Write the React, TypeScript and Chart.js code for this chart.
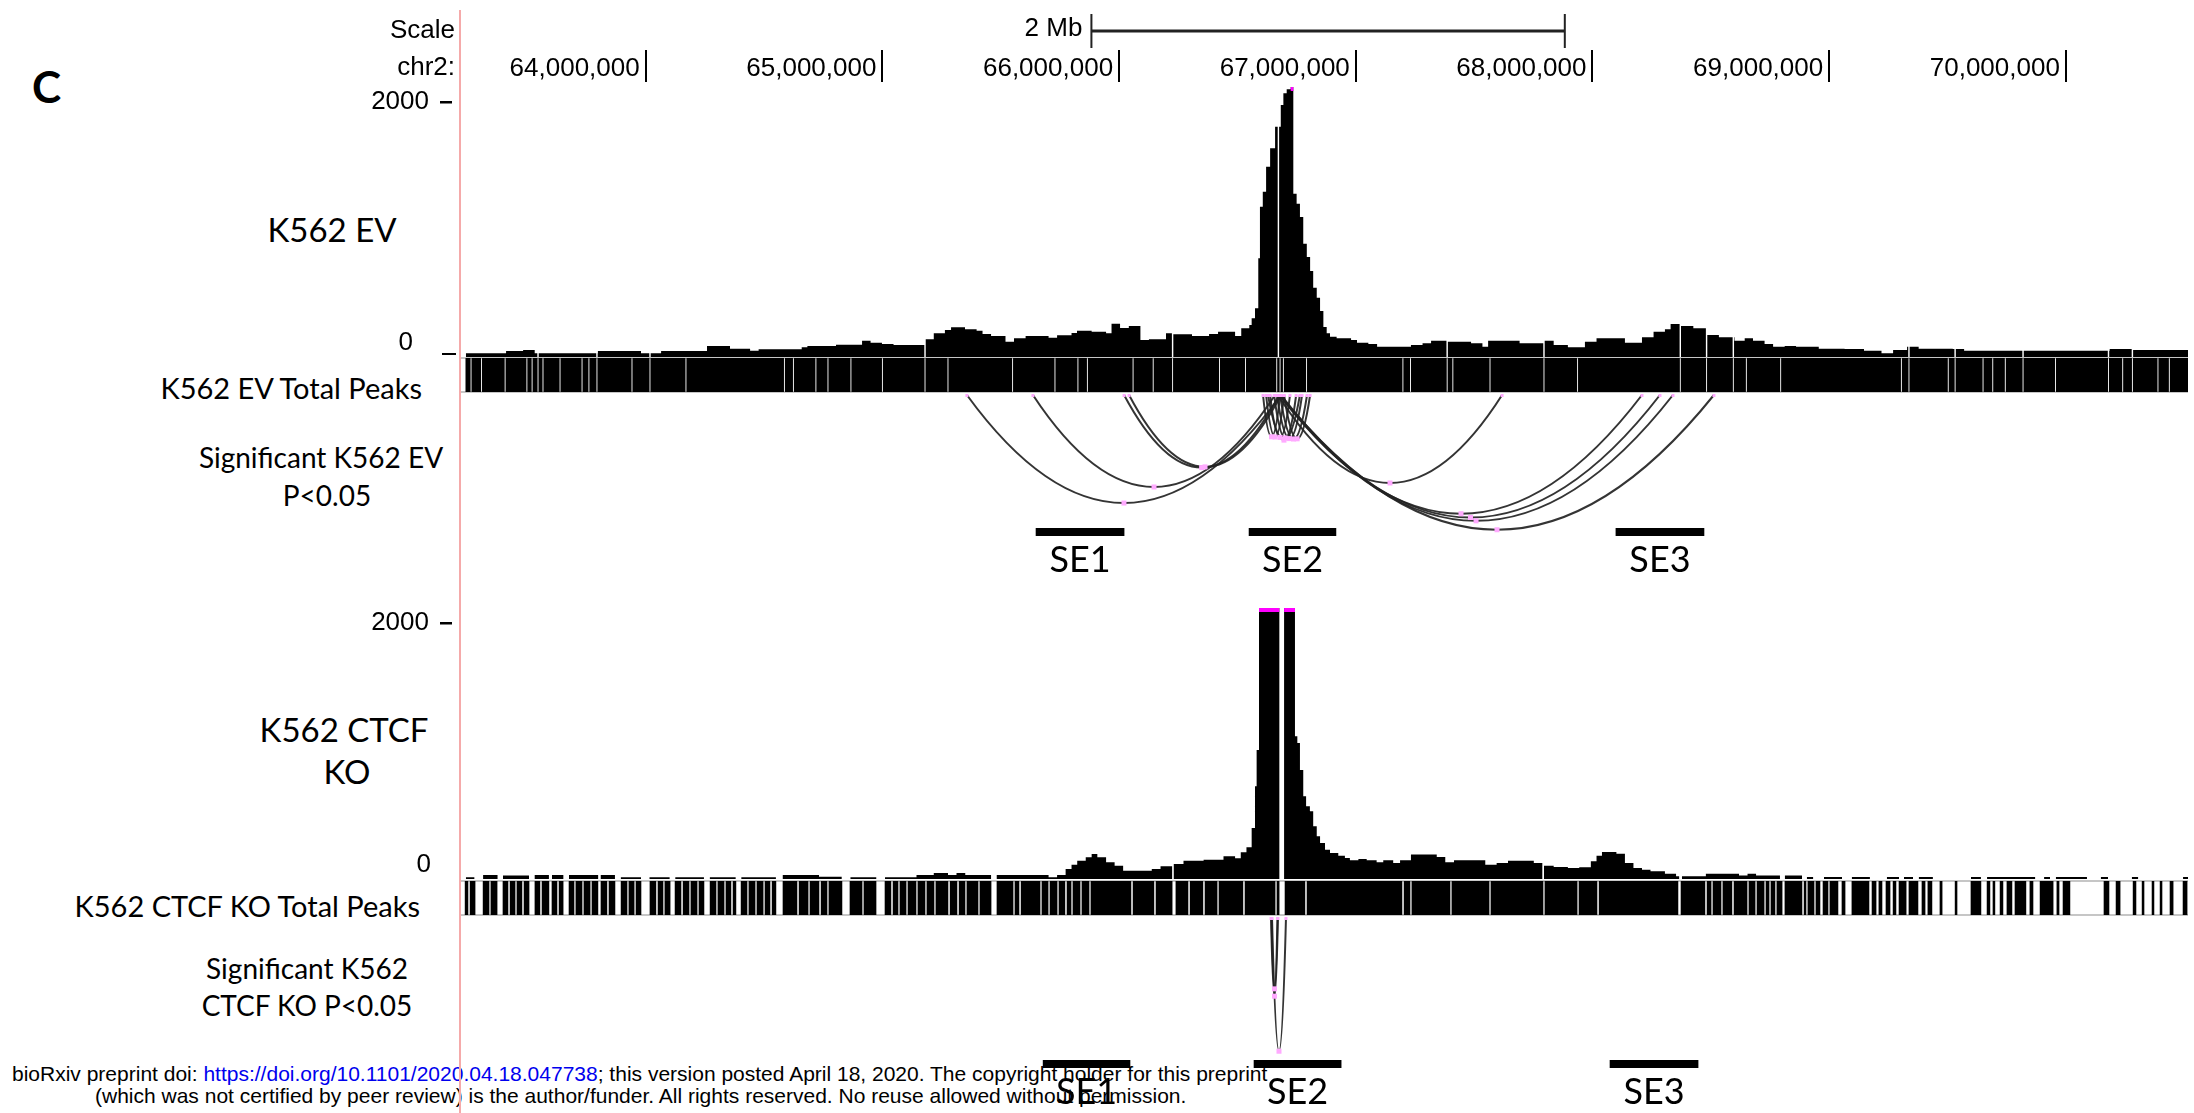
import React, { useEffect, useRef } from 'react';
import { Chart, registerables } from 'chart.js';

Chart.register(...registerables);

const W = 2194;
const H = 1113;
const PLOT_LEFT = 461;
const PLOT_RIGHT = 2188;

// ---------- genomic window (Mb on chr2) ----------
const viewStart = 63.2196;
const viewEnd = 70.5159;
const rulerTicks = [64, 65, 66, 67, 68, 69, 70];
const scaleBarStart = 65.883;
const scaleBarLength = 2;
const signalMax = 2000;

// ---------- K562 EV signal (step starts, Mb) ----------
const evSignalX = [63.240, 63.410, 63.482, 63.531, 63.798, 63.980, 64.065, 64.259, 64.356, 64.441, 64.477, 64.659, 64.683, 64.804, 64.914, 64.950, 64.998, 65.047, 65.180, 65.217, 65.264, 65.290, 65.349, 65.398, 65.423, 65.459, 65.520, 65.556, 65.605, 65.702, 65.738, 65.799, 65.822, 65.884, 65.945, 65.968, 66.004, 66.041, 66.090, 66.126, 66.198, 66.224, 66.308, 66.380, 66.418, 66.490, 66.516, 66.550, 66.560, 66.574, 66.588, 66.595, 66.607, 66.621, 66.638, 66.659, 66.683, 66.694, 66.708, 66.725, 66.736, 66.750, 66.764, 66.778, 66.793, 66.807, 66.820, 66.835, 66.849, 66.863, 66.877, 66.891, 66.919, 66.980, 67.005, 67.053, 67.090, 67.233, 67.282, 67.318, 67.385, 67.487, 67.535, 67.559, 67.692, 67.795, 67.836, 67.896, 67.968, 68.017, 68.137, 68.209, 68.258, 68.306, 68.330, 68.370, 68.426, 68.484, 68.534, 68.600, 68.643, 68.678, 68.727, 68.763, 68.812, 68.860, 68.956, 69.065, 69.147, 69.221, 69.270, 69.329, 69.378, 69.522, 69.570, 70.185, 70.279, 70.516];
const evSignalY = [27, 44, 52, 27, 44, 27, 44, 81, 61, 47, 57, 72, 81, 91, 121, 106, 96, 89, 131, 176, 200, 220, 205, 195, 170, 156, 113, 139, 156, 143, 161, 178, 195, 187, 176, 247, 215, 230, 126, 131, 176, 168, 156, 170, 187, 156, 213, 237, 287, 361, 731, 1113, 1224, 1410, 1546, 1706, 1867, 1953, 1983, 2060, 1210, 1136, 1037, 839, 741, 637, 513, 439, 341, 222, 176, 150, 139, 126, 106, 96, 76, 89, 101, 121, 113, 101, 76, 121, 101, 121, 89, 72, 113, 139, 106, 146, 187, 205, 244, 230, 213, 163, 146, 121, 139, 121, 96, 76, 81, 76, 61, 59, 47, 27, 52, 76, 61, 59, 47, 59, 52, 52];
const evSignalGaps = [63.545, 63.794, 64.018, 65.180, 66.226, 66.673, 67.386, 67.795, 68.371, 68.482, 68.595, 69.337, 69.532, 69.819, 70.180, 70.281];

// ---------- K562 CTCF KO signal ----------
const koSignalX = [63.240, 63.276, 63.313, 63.374, 63.397, 63.507, 63.531, 63.591, 63.604, 63.652, 63.676, 63.799, 63.810, 63.870, 63.895, 63.980, 64.016, 64.101, 64.125, 64.246, 64.271, 64.380, 64.404, 64.550, 64.579, 64.732, 64.828, 64.865, 64.974, 65.011, 65.144, 65.217, 65.277, 65.313, 65.350, 65.459, 65.483, 65.702, 65.738, 65.774, 65.799, 65.823, 65.859, 65.884, 65.908, 65.945, 65.981, 66.017, 66.138, 66.175, 66.224, 66.231, 66.272, 66.357, 66.441, 66.490, 66.514, 66.538, 66.560, 66.574, 66.581, 66.591, 66.677, 66.697, 66.743, 66.753, 66.764, 66.778, 66.790, 66.806, 66.820, 66.835, 66.849, 66.870, 66.891, 66.926, 66.954, 66.975, 67.011, 67.046, 67.088, 67.116, 67.158, 67.187, 67.233, 67.342, 67.378, 67.415, 67.547, 67.595, 67.643, 67.752, 67.788, 67.795, 67.836, 67.896, 67.944, 67.993, 68.017, 68.040, 68.101, 68.137, 68.173, 68.209, 68.245, 68.306, 68.353, 68.366, 68.378, 68.479, 68.619, 68.655, 68.691, 68.792, 68.813, 68.885, 68.906, 68.932, 68.978, 69.054, 69.096, 69.172, 69.244, 69.295, 69.316, 69.354, 69.379, 69.438, 69.599, 69.641, 69.667, 69.870, 69.908, 69.933, 69.958, 70.089, 70.148, 70.178, 70.279, 70.305, 70.495, 70.516];
const koSignalY = [13, 0, 30, 0, 25, 0, 30, 0, 30, 0, 30, 0, 30, 0, 13, 0, 13, 0, 13, 0, 13, 0, 13, 0, 30, 17, 0, 13, 0, 13, 30, 44, 30, 44, 30, 0, 30, 13, 30, 74, 106, 135, 160, 185, 160, 123, 98, 61, 74, 94, 0, 111, 135, 142, 168, 153, 197, 234, 376, 684, 952, 2300, 0, 2300, 1053, 1004, 804, 610, 536, 500, 389, 315, 266, 216, 192, 172, 155, 138, 148, 138, 123, 138, 118, 138, 180, 162, 123, 138, 106, 118, 135, 118, 0, 98, 89, 81, 86, 131, 172, 199, 187, 118, 81, 69, 57, 39, 20, 0, 20, 39, 25, 39, 25, 0, 25, 0, 15, 0, 15, 0, 15, 0, 15, 0, 15, 0, 15, 0, 15, 0, 15, 0, 15, 0, 15, 0, 15, 0, 15, 0, 15, 0];

// ---------- Total peaks ----------
const evPeakBounds = [63.240, 63.262, 63.306, 63.406, 63.498, 63.520, 63.545, 63.566, 63.638, 63.731, 63.760, 63.794, 63.942, 64.018, 64.170, 64.586, 64.624, 64.719, 64.770, 64.867, 65.000, 65.180, 65.277, 65.550, 65.729, 65.826, 65.866, 66.059, 66.144, 66.226, 66.424, 66.534, 66.666, 66.680, 66.694, 66.792, 67.199, 67.231, 67.386, 67.410, 67.567, 67.795, 67.937, 68.371, 68.482, 68.595, 68.650, 68.795, 69.305, 69.337, 69.503, 69.532, 69.650, 69.691, 69.744, 69.819, 69.956, 70.180, 70.240, 70.281, 70.389, 70.437, 70.516];
const koPeakStart = [63.237, 63.258, 63.313, 63.346, 63.397, 63.427, 63.456, 63.486, 63.532, 63.562, 63.604, 63.634, 63.676, 63.705, 63.739, 63.773, 63.811, 63.845, 63.896, 63.929, 63.959, 64.018, 64.052, 64.081, 64.124, 64.158, 64.191, 64.225, 64.272, 64.305, 64.339, 64.369, 64.403, 64.436, 64.470, 64.504, 64.534, 64.580, 64.648, 64.694, 64.741, 64.774, 64.863, 64.922, 65.011, 65.045, 65.074, 65.108, 65.150, 65.188, 65.226, 65.286, 65.324, 65.357, 65.412, 65.484, 65.560, 65.586, 65.674, 65.708, 65.746, 65.780, 65.805, 65.843, 65.881, 66.059, 66.156, 66.240, 66.300, 66.363, 66.422, 66.532, 66.667, 66.701, 66.794, 67.204, 67.237, 67.406, 67.571, 67.799, 67.943, 68.028, 68.374, 68.484, 68.509, 68.551, 68.598, 68.661, 68.695, 68.733, 68.754, 68.779, 68.813, 68.894, 68.910, 68.944, 68.974, 69.003, 69.054, 69.096, 69.181, 69.210, 69.240, 69.270, 69.295, 69.337, 69.392, 69.417, 69.468, 69.532, 69.599, 69.667, 69.692, 69.722, 69.751, 69.785, 69.848, 69.891, 69.962, 69.988, 70.161, 70.212, 70.284, 70.322, 70.364, 70.398, 70.440, 70.495];
const koPeakEnd = [63.249, 63.279, 63.338, 63.372, 63.418, 63.448, 63.477, 63.507, 63.553, 63.591, 63.625, 63.651, 63.697, 63.731, 63.765, 63.798, 63.836, 63.870, 63.921, 63.951, 63.980, 64.043, 64.073, 64.103, 64.149, 64.183, 64.217, 64.246, 64.297, 64.331, 64.360, 64.381, 64.428, 64.462, 64.496, 64.525, 64.550, 64.639, 64.686, 64.732, 64.766, 64.829, 64.914, 64.973, 65.036, 65.066, 65.100, 65.142, 65.180, 65.218, 65.277, 65.315, 65.349, 65.404, 65.459, 65.552, 65.577, 65.666, 65.700, 65.738, 65.771, 65.797, 65.835, 65.873, 66.050, 66.147, 66.224, 66.291, 66.354, 66.414, 66.523, 66.659, 66.676, 66.785, 67.195, 67.229, 67.398, 67.563, 67.791, 67.935, 68.019, 68.361, 68.475, 68.501, 68.543, 68.589, 68.653, 68.687, 68.725, 68.746, 68.771, 68.801, 68.885, 68.902, 68.936, 68.961, 68.995, 69.037, 69.067, 69.168, 69.198, 69.223, 69.257, 69.282, 69.325, 69.375, 69.405, 69.434, 69.477, 69.540, 69.641, 69.679, 69.700, 69.734, 69.772, 69.831, 69.861, 69.946, 69.971, 70.017, 70.182, 70.229, 70.296, 70.330, 70.372, 70.406, 70.453, 70.512];

// ---------- significant interactions (anchor pairs, Mb) ----------
const evArcStart = [65.357, 65.636, 66.021, 66.042, 66.671, 66.680, 66.684, 66.676, 66.680, 66.608, 66.621, 66.638, 66.655, 66.667, 66.680, 66.697, 66.629];
const evArcEnd = [66.684, 66.659, 66.676, 66.684, 67.618, 68.209, 68.285, 68.340, 68.513, 66.680, 66.697, 66.722, 66.748, 66.773, 66.794, 66.807, 66.764];
const koArcStart = [66.644, 66.642, 66.646];
const koArcEnd = [66.669, 66.671, 66.705];

// ---------- super-enhancers ----------
const seNames = ['SE1', 'SE2', 'SE3'];
const seTopStart = [65.649, 66.549, 68.099];
const seTopEnd = [66.021, 66.916, 68.471];
const seBotStart = [65.679, 66.570, 68.074];
const seBotEnd = [66.046, 66.938, 68.446];

const UCSC_FONT = '"Liberation Sans", Arial, sans-serif';
const LABEL_FONT = 'Lato, "Open Sans", sans-serif';

function buildStep(xs: number[], ys: number[], gaps: number[], gapWidth: number) {
  let pts = xs.map((x, i) => ({ x, y: ys[i] }));
  for (const g of gaps) {
    const a = g - gapWidth / 2;
    const b = g + gapWidth / 2;
    let v = 0;
    for (const p of pts) if (p.x <= b) v = p.y;
    pts = pts.filter((p) => p.x <= a || p.x > b);
    pts.push({ x: a, y: 0 }, { x: b, y: v });
    pts.sort((p, q) => p.x - q.x);
  }
  return pts;
}

function base(top: number, bottom: number) {
  return {
    responsive: false,
    maintainAspectRatio: false,
    animation: false as const,
    devicePixelRatio: 1,
    events: [] as any[],
    layout: { padding: { left: PLOT_LEFT, right: W - PLOT_RIGHT, top, bottom: H - bottom } },
  };
}
const quiet = { legend: { display: false }, tooltip: { enabled: false } };
const xHidden = () => ({ type: 'linear' as const, min: viewStart, max: viewEnd, display: false });

function makeRuler(canvas: HTMLCanvasElement) {
  const decor = {
    id: 'rulerDecor',
    afterDraw(chart: any) {
      const { ctx, chartArea } = chart;
      const x = chart.scales.x;
      ctx.save();
      ctx.fillStyle = '#f5aaaa';
      ctx.fillRect(chartArea.left - 2, 10, 2, H - 10);
      ctx.font = `26px ${UCSC_FONT}`;
      ctx.fillStyle = '#000';
      ctx.textAlign = 'right';
      ctx.textBaseline = 'middle';
      ctx.fillText('Scale', chartArea.left - 6, 31);
      ctx.fillText('chr2:', chartArea.left - 6, 68);
      const a = x.getPixelForValue(scaleBarStart);
      const b = x.getPixelForValue(scaleBarStart + scaleBarLength);
      ctx.fillText(`${scaleBarLength} Mb`, a - 9, 29);
      ctx.fillStyle = '#222';
      ctx.fillRect(a, 29.5, b - a, 3);
      ctx.fillRect(a - 1, 14, 2, 34);
      ctx.fillRect(b - 1, 14, 2, 34);
      ctx.restore();
    },
  };
  return new Chart(canvas, {
    type: 'line',
    data: { datasets: [] },
    options: {
      ...base(0, 84),
      plugins: quiet,
      scales: {
        x: {
          type: 'linear',
          min: viewStart,
          max: viewEnd,
          position: 'top',
          afterBuildTicks: (s: any) => {
            s.ticks = rulerTicks.map((v) => ({ value: v }));
          },
          afterFit: (s: any) => {
            s.height = 82;
          },
          grid: { drawOnChartArea: false, drawTicks: true, tickLength: 32, color: '#000', lineWidth: 2 },
          border: { display: false },
          ticks: {
            autoSkip: false,
            maxRotation: 0,
            minRotation: 0,
            align: 'end',
            labelOffset: -6,
            padding: -34,
            color: '#000',
            font: { family: UCSC_FONT, size: 26 },
            callback: (v: any) => Math.round(Number(v) * 1e6).toLocaleString('en-US'),
          },
        },
        y: { display: false },
      },
    } as any,
    plugins: [decor],
  });
}

function makeSignal(canvas: HTMLCanvasElement, pts: any[], top: number, bottom: number, zeroRight: number, underscore: boolean) {
  const decor = {
    id: 'signalDecor',
    afterDatasetsDraw(chart: any) {
      const { ctx, chartArea } = chart;
      const x = chart.scales.x;
      const y = chart.scales.y;
      const d = chart.data.datasets[0].data;
      ctx.save();
      ctx.fillStyle = '#ff00ff';
      for (let i = 0; i < d.length - 1; i++) {
        if (d[i].y > y.max) {
          const a = x.getPixelForValue(d[i].x);
          const b = x.getPixelForValue(d[i + 1].x);
          ctx.fillRect(a, chartArea.top, Math.max(b - a, 1.5), 4);
        }
      }
      ctx.fillStyle = '#000';
      ctx.font = `26px ${UCSC_FONT}`;
      ctx.textAlign = 'right';
      ctx.textBaseline = 'middle';
      const yTop = y.getPixelForValue(signalMax) + 15;
      ctx.fillText(String(signalMax), chartArea.left - 32, yTop);
      ctx.fillRect(chartArea.left - 21, yTop - 1, 12, 2.5);
      const y0 = y.getPixelForValue(0);
      ctx.fillText('0', zeroRight, y0 - 14);
      if (underscore) ctx.fillRect(chartArea.left - 19, y0 - 4, 14, 2);
      ctx.restore();
    },
  };
  return new Chart(canvas, {
    type: 'line',
    data: {
      datasets: [
        {
          data: pts,
          stepped: true,
          fill: 'origin',
          backgroundColor: '#000',
          borderColor: 'rgba(0,0,0,0)',
          borderWidth: 0,
          pointRadius: 0,
        },
      ],
    },
    options: {
      ...base(top, bottom),
      plugins: quiet,
      scales: { x: xHidden(), y: { type: 'linear', min: 0, max: signalMax, display: false } },
    } as any,
    plugins: [decor],
  });
}

function makeBars(canvas: HTMLCanvasElement, starts: number[], ends: number[], top: number, bottom: number, withBox: boolean, extra?: any) {
  return new Chart(canvas, {
    type: 'bar',
    data: {
      labels: ['row'],
      datasets: [
        {
          data: starts.map((s, i) => ({ x: [s, ends[i]], y: 'row' })),
          backgroundColor: '#000',
          borderWidth: 0,
          borderSkipped: false,
          barPercentage: 1,
          categoryPercentage: 1,
        },
      ],
    },
    options: {
      ...base(top, bottom),
      indexAxis: 'y',
      plugins: quiet,
      scales: {
        x: xHidden(),
        y: withBox
          ? {
              type: 'category',
              display: true,
              z: 1,
              offset: true,
              grid: { offset: true, color: '#c6c6c6', lineWidth: 2, drawTicks: false },
              ticks: { display: false },
              border: { display: false },
              afterFit: (s: any) => {
                s.width = 0;
              },
            }
          : { type: 'category', display: false },
      },
    } as any,
    plugins: extra ? [extra] : [],
  });
}

function seLabels(starts: number[], ends: number[], dy: number) {
  return {
    id: 'seLabels',
    afterDatasetsDraw(chart: any) {
      const { ctx, chartArea } = chart;
      const x = chart.scales.x;
      ctx.save();
      ctx.font = `36px ${LABEL_FONT}`;
      ctx.textAlign = 'center';
      ctx.textBaseline = 'middle';
      ctx.fillStyle = '#000';
      seNames.forEach((n, i) => {
        const c = (x.getPixelForValue(starts[i]) + x.getPixelForValue(ends[i])) / 2;
        ctx.fillText(n, c, chartArea.bottom + dy);
      });
      ctx.restore();
    },
  };
}

function makeArcs(canvas: HTMLCanvasElement, starts: number[], ends: number[], top: number, bottom: number, d0: number, k: number) {
  const decor = {
    id: 'arcDecor',
    afterDraw(chart: any) {
      const { ctx, chartArea } = chart;
      const x = chart.scales.x;
      const t = chartArea.top;
      const mids: number[][] = [];
      ctx.save();
      ctx.strokeStyle = 'rgba(35,35,35,0.92)';
      ctx.lineWidth = 2;
      starts.forEach((s, i) => {
        const a = x.getPixelForValue(s);
        const b = x.getPixelForValue(ends[i]);
        const depth = d0 + k * Math.abs(b - a);
        const m = (a + b) / 2;
        ctx.beginPath();
        ctx.moveTo(a, t);
        ctx.quadraticCurveTo(m, t + 2 * depth, b, t);
        ctx.stroke();
        mids.push([m, t + depth]);
      });
      ctx.fillStyle = '#ffaaff';
      starts.forEach((s, i) => {
        [s, ends[i]].forEach((v) => {
          const p = x.getPixelForValue(v);
          ctx.fillRect(p - 1.5, t - 1, 3, 3);
        });
      });
      mids.forEach(([m, yb]) => ctx.fillRect(m - 2.5, yb - 2.5, 5, 5));
      ctx.restore();
    },
  };
  return new Chart(canvas, {
    type: 'line',
    data: { datasets: [] },
    options: {
      ...base(top, bottom),
      plugins: quiet,
      scales: { x: xHidden(), y: { display: false } },
    } as any,
    plugins: [decor],
  });
}

const evPeakStart = evPeakBounds.slice(0, -1).map((b, i) => (i === 0 ? b : b + 0.0033));
const evPeakEnd = evPeakBounds.slice(1).map((b, i, arr) => (i === arr.length - 1 ? b : b - 0.0033));

type LabelProps = { x: number; y: number; size: number; align?: 'center' | 'right' | 'left'; bold?: boolean; children: React.ReactNode };
function Label({ x, y, size, align = 'center', bold = false, children }: LabelProps) {
  const tx = align === 'center' ? '-50%' : align === 'right' ? '-100%' : '0';
  return (
    <div
      style={{
        position: 'absolute',
        left: x,
        top: y,
        transform: `translate(${tx}, -50%)`,
        fontFamily: LABEL_FONT,
        fontSize: size,
        fontWeight: bold ? 700 : 400,
        lineHeight: 1,
        whiteSpace: 'nowrap',
        color: '#000',
      }}
    >
      {children}
    </div>
  );
}

export default function App() {
  const canvases = useRef<(HTMLCanvasElement | null)[]>([]);

  useEffect(() => {
    document.body.style.margin = '0';
    const c = canvases.current as HTMLCanvasElement[];
    const charts: Chart[] = [];
    charts.push(makeRuler(c[0]));
    charts.push(makeSignal(c[1], buildStep(evSignalX, evSignalY, evSignalGaps, 0.006), 87, 357, PLOT_LEFT - 48, true));
    charts.push(makeBars(c[2], evPeakStart, evPeakEnd, 358, 392, true));
    charts.push(makeArcs(c[3], evArcStart, evArcEnd, 395, 525, 38, 0.223));
    charts.push(makeBars(c[4], seTopStart, seTopEnd, 528, 536, false, seLabels(seTopStart, seTopEnd, 24)));
    charts.push(makeSignal(c[5], buildStep(koSignalX, koSignalY, [], 0.006), 608, 879, PLOT_LEFT - 30, false));
    charts.push(makeBars(c[6], koPeakStart, koPeakEnd, 881, 915, true));
    charts.push(makeArcs(c[7], koArcStart, koArcEnd, 918, 1058, 25, 7.75));
    charts.push(makeBars(c[8], seBotStart, seBotEnd, 1060, 1068, false, seLabels(seBotStart, seBotEnd, 24)));
    return () => charts.forEach((ch) => ch.destroy());
  }, []);

  const footerStyle: React.CSSProperties = {
    position: 'absolute',
    fontFamily: UCSC_FONT,
    fontSize: 21,
    lineHeight: 1,
    whiteSpace: 'nowrap',
    color: '#000',
    transform: 'translateY(-50%)',
  };

  return (
    <div style={{ position: 'absolute', left: 0, top: 0, width: W, height: H, background: '#fff', overflow: 'hidden' }}>
      <Label x={32} y={86} size={44} align="left" bold>
        C
      </Label>
      <Label x={332} y={229} size={33}>K562 EV</Label>
      <Label x={422} y={387} size={29} align="right">K562 EV Total Peaks</Label>
      <Label x={321} y={457} size={28}>Significant K562 EV</Label>
      <Label x={327} y={495} size={28}>P&lt;0.05</Label>
      <Label x={344} y={729} size={33}>K562 CTCF</Label>
      <Label x={347} y={771} size={33}>KO</Label>
      <Label x={420} y={905} size={29} align="right">K562 CTCF KO Total Peaks</Label>
      <Label x={307} y={968} size={28}>Significant K562</Label>
      <Label x={307} y={1005} size={28}>CTCF KO P&lt;0.05</Label>

      <div style={{ ...footerStyle, left: 12, top: 1073 }}>
        bioRxiv preprint doi: <span style={{ color: '#0000ee' }}>https://doi.org/10.1101/2020.04.18.047738</span>; this version posted April 18, 2020. The copyright holder for this preprint
      </div>
      <div style={{ ...footerStyle, left: 95, top: 1095 }}>
        (which was not certified by peer review) is the author/funder. All rights reserved. No reuse allowed without permission.
      </div>

      {Array.from({ length: 9 }).map((_, i) => (
        <canvas
          key={i}
          ref={(el) => {
            canvases.current[i] = el;
          }}
          width={W}
          height={H}
          style={{ position: 'absolute', left: 0, top: 0, width: W, height: H, pointerEvents: 'none' }}
        />
      ))}
    </div>
  );
}
